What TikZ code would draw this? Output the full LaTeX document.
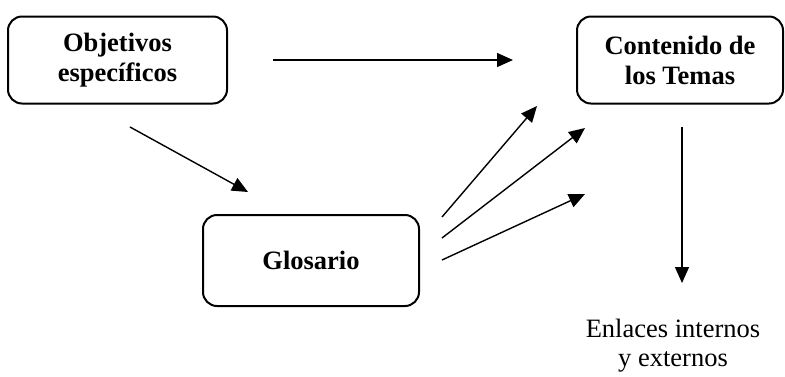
\documentclass[tikz,border=0pt]{standalone}
\usepackage{fontspec}
\setmainfont{Liberation Serif}
\usetikzlibrary{arrows.meta}
\begin{document}
\begin{tikzpicture}[x=1pt, y=-1pt, >={Triangle[length=16pt,width=14pt]},
    box/.style={draw, line width=2pt, rounded corners=14pt, align=center,
        inner sep=0pt, font=\fontsize{26.5}{30}\selectfont\bfseries},
    link/.style={->, line width=1.4pt}]
    \useasboundingbox (0,0) rectangle (785,376);
    % boxes
    \node[box, minimum width=219pt, minimum height=87pt] (obj) at (117.5,60) {Objetivos\\específicos};
    \node[box, minimum width=206pt, minimum height=87pt] (cont) at (680,60) {Contenido de\\los Temas};
    \node[box, minimum width=216pt, minimum height=91pt] (glos) at (311,260.5) {Glosario};
    \node[align=center, inner sep=0pt, font=\fontsize{26.5}{29}\selectfont] (enl) at (673,346) {Enlaces internos\\y externos};
    % free ends of the arrows
    \coordinate (objA) at (273,60);
    \coordinate (contA) at (513,60);
    \coordinate (objB) at (130,127);
    \coordinate (glosB) at (248,192);
    \coordinate (g1) at (442,217);
    \coordinate (g2) at (442,238);
    \coordinate (g3) at (442,260);
    \coordinate (c1) at (537,106);
    \coordinate (c2) at (585,128);
    \coordinate (c3) at (585,194);
    \coordinate (contB) at (682,127);
    \coordinate (enlB) at (682,283);
    % arrows
    \draw[link] (objA) -- (contA);
    \draw[link] (objB) -- (glosB);
    \draw[link] (g1) -- (c1);
    \draw[link] (g2) -- (c2);
    \draw[link] (g3) -- (c3);
    \draw[link] (contB) -- (enlB);
\end{tikzpicture}
\end{document}
